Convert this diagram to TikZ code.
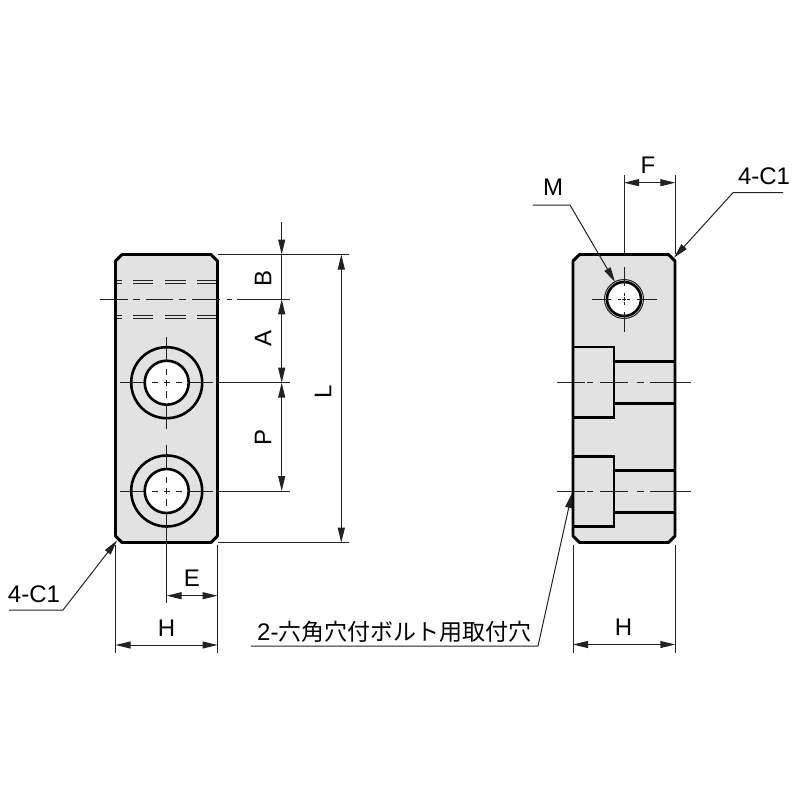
\documentclass[tikz,border=0pt]{standalone}
\usepackage{fontspec}
\setmainfont{Liberation Sans}
\newfontfamily\cjkjp{Noto Sans CJK JP}
\usetikzlibrary{arrows.meta}
\definecolor{bodygray}{HTML}{E2E2E2}
\definecolor{thinline}{HTML}{222222}
\tikzset{
  body/.style={fill=bodygray,draw=black,line width=2.9pt,line join=round},
  edge/.style={draw=black,line width=2.7pt},
  ring/.style={draw=black,line width=2.6pt},
  thin line/.style={draw=thinline,line width=1pt},
  hidden line/.style={draw=thinline,line width=0.9pt},
  dim/.style={thin line,{Triangle[length=15pt,width=7pt]}-{Triangle[length=15pt,width=7pt]}},
  tipend/.style={thin line,-{Triangle[length=15pt,width=7pt]}},
  lbl/.style={font=\fontsize{24}{24}\selectfont,inner sep=0pt},
  rlbl/.style={lbl,rotate=90}
}
\begin{document}
\begin{tikzpicture}[x=1pt,y=-1pt]
\useasboundingbox (0,0) rectangle (800,800);
% ---------- left block
\draw[body] (122,254.5) -- (211,254.5) -- (217.5,261) -- (217.5,536) -- (211,542.5) -- (122,542.5) -- (115.5,536) -- (115.5,261) -- cycle;
% hidden double lines
\foreach \yy in {280,283.5,315,318.7}{
  \foreach \a/\b in {117/122,133/153,165/186,197/216}{
    \draw[hidden line] (\a,\yy) -- (\b,\yy);
  }
}
% centre line through the side hole
\foreach \a/\b in {100/128,133/140,146/173,179/186,192/220,227/232,237/290}{
  \draw[thin line] (\a,299.3) -- (\b,299.3);
}
% counterbored holes
\foreach \cy in {382.7,491}{
  \fill[white] (166.7,\cy) circle (22);
  \draw[ring] (166.7,\cy) circle (22);
  \draw[ring] (166.7,\cy) circle (35.5);
  \foreach \a/\b in {120/145,152/158,164/169.5,175.5/182,188/213}{
    \draw[thin line] (\a,\cy) -- (\b,\cy);
  }
}
\foreach \a/\b in {337/362,369/375,380/385.5,391/398,404/429,445/470,477/483,488/493.5,499/506,512/603}{
  \draw[thin line] (166.7,\a) -- (166.7,\b);
}
% ---------- right block
\draw[body] (579.5,254.5) -- (668.5,254.5) -- (675,261) -- (675,536) -- (668.5,542.5) -- (579.5,542.5) -- (573,536) -- (573,261) -- cycle;
\draw[edge] (573,347) -- (614,347) -- (614,417.5) -- (573,417.5);
\draw[edge] (614,361.7) -- (675,361.7);
\draw[edge] (614,403.3) -- (675,403.3);
\draw[edge] (573,456.7) -- (614,456.7) -- (614,526.7) -- (573,526.7);
\draw[edge] (614,470.7) -- (675,470.7);
\draw[edge] (614,512.7) -- (675,512.7);
\foreach \cy in {382.3,491.3}{
  \foreach \a/\b in {556.7/585,587/593,600/628,637/644,650/690.7}{
    \draw[thin line] (\a,\cy) -- (\b,\cy);
  }
}
% tapped hole
\fill[white] (624,299) circle (18);
\draw[thin line] (624,299) circle (19.5);
\draw[ring] (624,299) circle (17);
\foreach \a/\b in {591.7/611,618/621,622/626,627/630,637/656.7}{
  \draw[thin line] (\a,299) -- (\b,299);
}
\foreach \a/\b in {267/286,293/296,297/301,302/305,312/331.7}{
  \draw[thin line] (624,\a) -- (624,\b);
}
% ---------- named dimension points
\coordinate (tA) at (281.7,254.5);
\coordinate (tB) at (281.7,299.3);
\coordinate (tC) at (281.7,382.7);
\coordinate (tD) at (281.7,491);
\coordinate (tBtop) at (281.7,222);
\coordinate (Ltop) at (341.3,254.5);
\coordinate (Lbot) at (341.3,542.7);
\coordinate (HlL) at (115.5,645);
\coordinate (HlR) at (217.5,645);
\coordinate (EL) at (166.7,595.7);
\coordinate (ER) at (217.5,595.7);
\coordinate (HrL) at (573,644.5);
\coordinate (HrR) at (675.3,644.5);
\coordinate (FL) at (624,182.7);
\coordinate (FR) at (675.3,182.7);
% extension lines
\draw[thin line] (218,254.5) -- (349,254.5);
\draw[thin line] (218,542.7) -- (349,542.7);
\draw[thin line] (218,382.7) -- (290,382.7);
\draw[thin line] (218,491) -- (290,491);
\draw[thin line] (115.5,545) -- (115.5,653);
\draw[thin line] (217.5,545) -- (217.5,653);
\draw[thin line] (573,545) -- (573,653);
\draw[thin line] (675.3,545) -- (675.3,653);
\draw[thin line] (624,175) -- (624,254);
\draw[thin line] (675.3,175) -- (675.3,254);
% dimension lines
\draw[tipend] (tBtop) -- (tA);
\draw[thin line] (tA) -- (tB);
\draw[dim] (tB) -- (tC);
\draw[dim] (tC) -- (tD);
\draw[dim] (Ltop) -- (Lbot);
\draw[dim] (HlL) -- (HlR);
\draw[dim] (EL) -- (ER);
\draw[dim] (HrL) -- (HrR);
\draw[dim] (FL) -- (FR);
% leaders
\coordinate (lead1a) at (9,610);
\coordinate (lead1b) at (63,610);
\coordinate (lead1c) at (117,540.5);
\draw[tipend] (lead1a) -- (lead1b) -- (lead1c);
\coordinate (lead2a) at (533,205);
\coordinate (lead2b) at (570,205);
\coordinate (lead2c) at (615,282);
\draw[tipend] (lead2a) -- (lead2b) -- (lead2c);
\coordinate (lead3a) at (783,192.7);
\coordinate (lead3b) at (733,192.7);
\coordinate (lead3c) at (674,257.7);
\draw[tipend] (lead3a) -- (lead3b) -- (lead3c);
\coordinate (lead4a) at (251,646);
\coordinate (lead4b) at (538,646);
\coordinate (lead4c) at (572,493);
\draw[tipend] (lead4a) -- (lead4b) -- (lead4c);
% labels
\node[rlbl] (lblB) at (263,278) {B};
\node[rlbl] (lblA) at (263,338) {A};
\node[rlbl] (lblP) at (263,437) {P};
\node[rlbl] (lblL) at (323,392) {L};
\node[lbl] (lblE) at (192,578) {E};
\node[lbl] (lblH1) at (166.5,628) {H};
\node[lbl] (lblH2) at (623.5,627) {H};
\node[lbl] (lblM) at (553,187) {M};
\node[lbl] (lblF) at (648,165) {F};
\node[lbl] (lblC1) at (34,594) {4-C1};
\node[lbl] (lblC2) at (764,176) {4-C1};
\node[lbl,anchor=base west] (lblJ) at (257,640) {2-{\cjkjp\fontsize{23}{23}\selectfont 六角穴付ボルト用取付穴}};
\end{tikzpicture}
\end{document}
